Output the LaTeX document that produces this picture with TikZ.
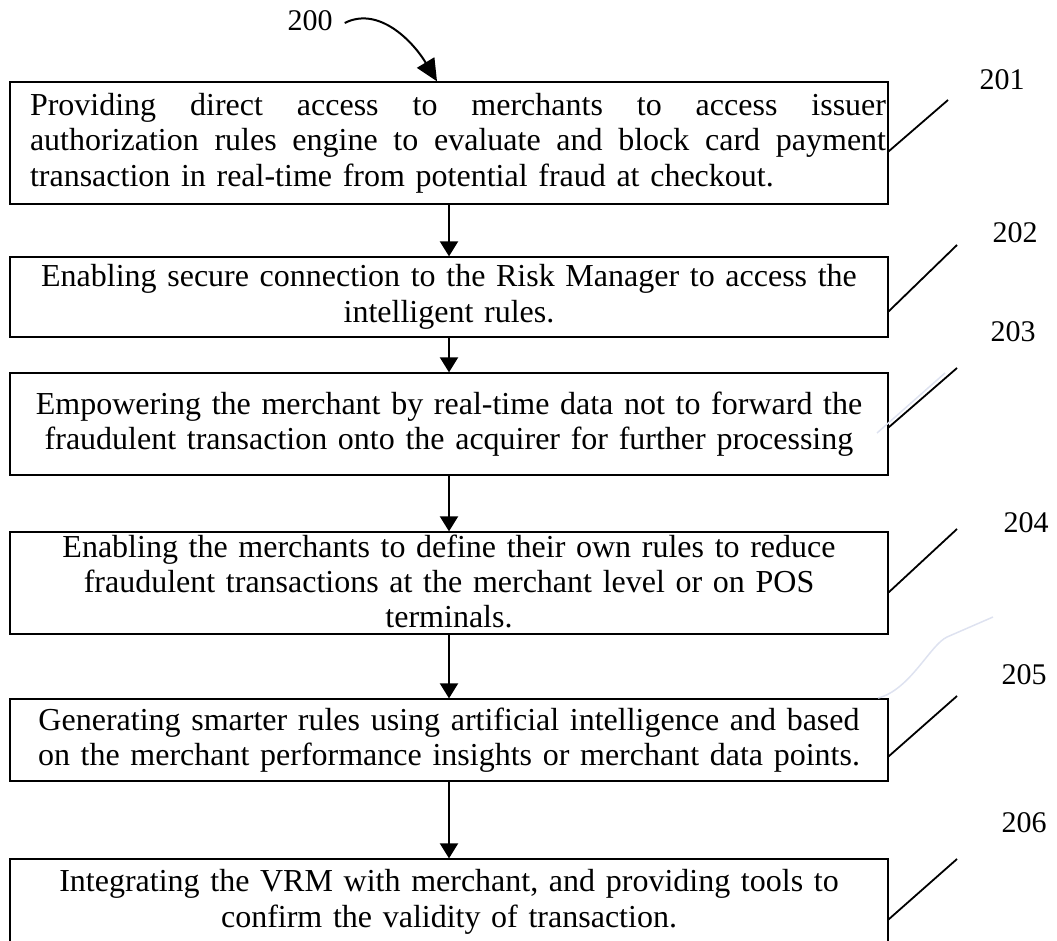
\documentclass[tikz,border=0pt]{standalone}
\usepackage{fontspec}
\setmainfont{Liberation Serif}
\usetikzlibrary{arrows.meta}
\definecolor{faintblue}{RGB}{222,226,240}
\begin{document}
\begin{tikzpicture}[x=1pt,y=-1pt,
  stepbox/.style={draw=black, line width=1.3pt, minimum width=878pt, inner xsep=6pt, inner ysep=0pt,
    text width=866pt, align=center, font=\fontsize{32}{35.5}\selectfont},
  flow/.style={-{Triangle[width=18pt,length=15pt]}, line width=2pt},
  leader/.style={line width=1.8pt},
  reflabel/.style={font=\fontsize{30}{30}\selectfont, inner sep=0pt},
  faint/.style={draw=faintblue, line width=1.5pt}]
\useasboundingbox (0,0) rectangle (1057,940);
\clip (0,0) rectangle (1057,940);

% boxes
\node[stepbox, minimum height=122pt, inner xsep=0pt, text width=878pt, align=left] (b1) at (449,143)
  {\hspace*{20pt}\hbox to 856pt{Providing \hfill direct \hfill access \hfill to \hfill merchants \hfill to \hfill access \hfill issuer}\\
   \hspace*{20pt}\hbox to 856pt{authorization \hfill rules \hfill engine \hfill to \hfill evaluate \hfill and \hfill block \hfill card \hfill payment}\\
   \hspace*{20pt}transaction in real-time from potential fraud at checkout.};
\node[stepbox, minimum height=80pt] (b2) at (449,297)
  {Enabling secure connection to the Risk Manager to access the\\ intelligent rules.};
\node[stepbox, minimum height=102pt] (b3) at (449,424)
  {Empowering the merchant by real-time data not to forward the\\ fraudulent transaction onto the acquirer for further processing};
\node[stepbox, minimum height=102pt, font=\fontsize{32}{35}\selectfont] (b4) at (449,583)
  {Enabling the merchants to define their own rules to reduce\\ fraudulent transactions at the merchant level or on POS\\ terminals.\rule[-3pt]{0pt}{3pt}};
\node[stepbox, minimum height=82pt] (b5) at (449,740)
  {Generating smarter rules using artificial intelligence and based\\ on the merchant performance insights or merchant data points.};
\node[stepbox, minimum height=86pt] (b6) at (449,902)
  {Integrating the VRM with merchant, and providing tools to\\ confirm the validity of transaction.};

% flow arrows
\draw[flow] (b1.south) -- (b2.north);
\draw[flow] (b2.south) -- (b3.north);
\draw[flow] (b3.south) -- (b4.north);
\draw[flow] (b4.south) -- (b5.north);
\draw[flow] (b5.south) -- (b6.north);

% reference 200
\node[reflabel] (n200) at (310,21) {200};
\draw[line width=2pt, -{Triangle[width=20pt,length=22pt]}]
  ([xshift=12pt,yshift=-2pt]n200.east) .. controls (378,6) and (412,40) .. ([xshift=-12pt]b1.north);

% reference labels
\node[reflabel] (n201) at (1002,80) {201};
\node[reflabel] (n202) at (1015,233) {202};
\node[reflabel] (n203) at (1013,332) {203};
\node[reflabel] (n204) at (1026,523) {204};
\node[reflabel] (n205) at (1024,675) {205};
\node[reflabel] (n206) at (1024,823) {206};

% leader lines
\coordinate (e1) at (948,100);
\coordinate (e2) at (957,245);
\coordinate (e3) at (957,368);
\coordinate (e4) at (957,529);
\coordinate (e5) at (957,696);
\coordinate (e6) at (957,859);
\draw[leader] ([yshift=-70pt]b1.north east) -- (e1);
\draw[leader] ([yshift=-55pt]b2.north east) -- (e2);
\draw[leader] ([yshift=-55pt]b3.north east) -- (e3);
\draw[leader] ([yshift=-61pt]b4.north east) -- (e4);
\draw[leader] ([yshift=-58pt]b5.north east) -- (e5);
\draw[leader] ([yshift=-61pt]b6.north east) -- (e6);

% faint strokes
\coordinate (f1a) at (877,433);
\coordinate (f1b) at (945,373);
\draw[faint] (f1a) -- (f1b);
\coordinate (f2a) at (878,698);
\coordinate (f2b) at (947,637);
\coordinate (f2c) at (993,617);
\draw[faint] (f2a) .. controls (910,690) and (930,645) .. (f2b) -- (f2c);
\end{tikzpicture}
\end{document}
